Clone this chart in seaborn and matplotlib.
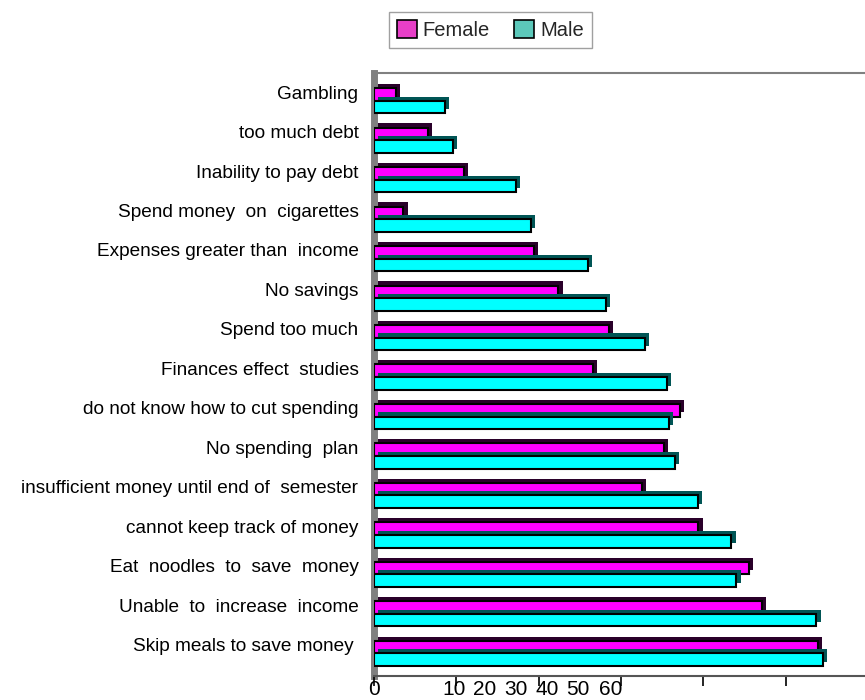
import numpy as np
import pandas as pd
import matplotlib
matplotlib.use("Agg")
import matplotlib.pyplot as plt
import matplotlib.patheffects as pe
from matplotlib.patches import Patch
import seaborn as sns

categories = [
    "Gambling",
    "too much debt",
    "Inability to pay debt",
    "Spend money  on  cigarettes",
    "Expenses greater than  income",
    "No savings",
    "Spend too much",
    "Finances effect  studies",
    "do not know how to cut spending",
    "No spending  plan",
    "insufficient money until end of  semester",
    "cannot keep track of money",
    "Eat  noodles  to  save  money",
    "Unable  to  increase  income",
    "Skip meals to save money ",
]
female = [2.7, 6.6, 10.9, 3.6, 19.4, 22.4, 28.5, 26.6, 37.1, 35.2, 32.5, 39.4, 45.5, 47.1, 53.9]
male = [8.6, 9.6, 17.3, 19.1, 26.0, 28.2, 32.9, 35.6, 35.8, 36.5, 39.3, 43.4, 44.0, 53.7, 54.5]
series = ["Female", "Male"]
tick_values = [0, 10, 20, 30, 40, 50]
tick_labels = ["0", "10", "20", "30", "40", "50", "60"]
tick_label_pos = [0, 9.8, 13.5, 17.2, 21.0, 24.8, 28.7]

bar_colors = {"Female": "#FF00FF", "Male": "#00FFFF"}
depth_colors = {"Female": "#2a002a", "Male": "#005555"}
legend_colors = {"Female": "#E83FC8", "Male": "#5CC8BA"}

df = pd.DataFrame({
    "cat": categories * 2,
    "val": female + male,
    "sex": ["Female"] * len(categories) + ["Male"] * len(categories),
})

sns.set_theme(style="white")
plt.rcParams["font.family"] = ["Liberation Sans", "DejaVu Sans"]

fig = plt.figure(figsize=(8.65, 7), dpi=100)
ax = fig.add_axes([0.432, 0.034, 0.568, 0.862])

sns.barplot(data=df, y="cat", x="val", hue="sex", hue_order=series,
            orient="h", palette=bar_colors, width=0.64, edgecolor="black",
            linewidth=1.5, legend=False, ax=ax, saturation=1)

# 3D-like depth on each bar
for p in ax.patches:
    fc = p.get_facecolor()
    key = "Female" if fc[1] < 0.5 else "Male"
    p.set_path_effects([pe.SimplePatchShadow(offset=(3, 3), shadow_rgbFace=depth_colors[key], alpha=1.0),
                        pe.Normal()])

n = len(categories)
ax.set_ylim(n - 1 + 0.58, -0.71)
ax.set_xlim(0, 59.6)

ax.set_yticks(np.arange(n) - 0.22, labels=categories)
ax.tick_params(axis="y", length=0, pad=11, labelsize=13.7, labelcolor="black")

ax.xaxis.remove_overlapping_locs = False
ax.set_xticks(tick_values, labels=[""] * len(tick_values))
ax.set_xticks(tick_label_pos, labels=tick_labels, minor=True)
ax.tick_params(axis="x", which="major", length=7, width=1.2, color="black", direction="out", bottom=True)
ax.tick_params(axis="x", which="minor", length=0, pad=3, labelsize=15, labelcolor="black", bottom=True)

ax.set_xlabel("")
ax.set_ylabel("")

ax.spines["right"].set_visible(False)
ax.spines["top"].set_color("#808080")
ax.spines["top"].set_linewidth(1.5)
ax.spines["bottom"].set_color("#555555")
ax.spines["bottom"].set_linewidth(1.5)
ax.spines["left"].set_color("#808080")
ax.spines["left"].set_linewidth(5)
ax.spines["left"].set_zorder(0.5)

handles = [Patch(facecolor=legend_colors[s], edgecolor="black", linewidth=1.2, label=s) for s in series]
fig.legend(handles=handles, loc="center", bbox_to_anchor=(0.567, 0.957), ncol=2,
           fontsize=14.5, frameon=True, fancybox=False, edgecolor="#888888",
           handlelength=1.0, handleheight=1.0, handletextpad=0.3, columnspacing=1.2,
           borderpad=0.4)

fig.savefig("out.png", dpi=100)
